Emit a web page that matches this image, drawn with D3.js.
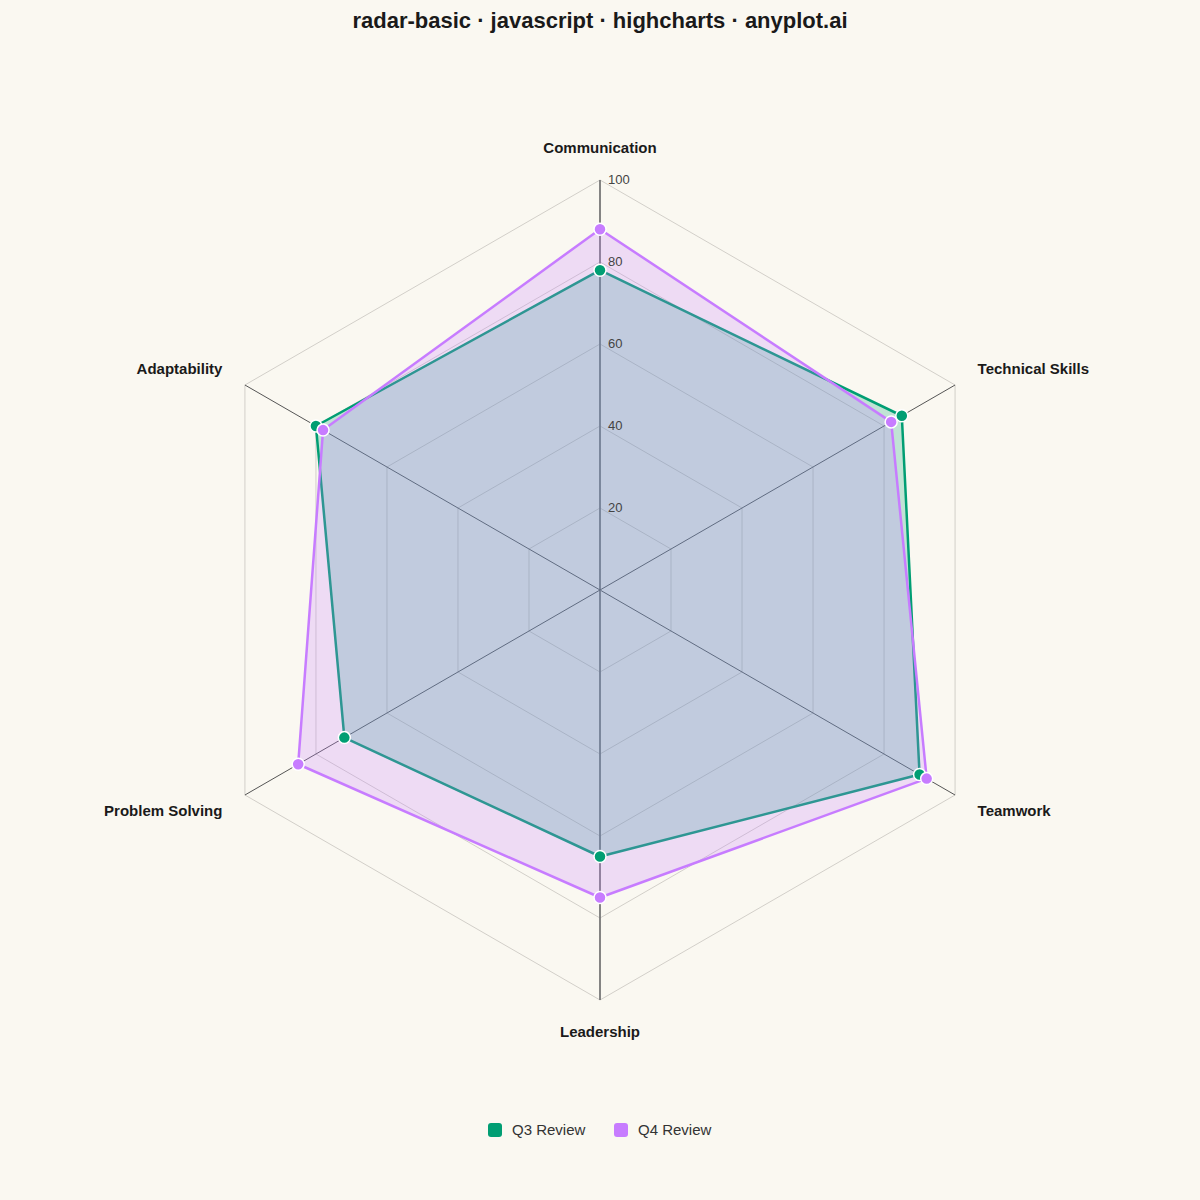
<!DOCTYPE html>
<html>
<head>
<meta charset="utf-8">
<script src="https://cdn.jsdelivr.net/npm/d3@7"></script>
<style>
  html, body { margin: 0; padding: 0; background: #FAF8F1; }
  svg { display: block; font-family: "Liberation Sans", Arial, sans-serif; }
</style>
</head>
<body>
<svg id="chart" width="1200" height="1200"></svg>
<script>
const categories = ["Communication", "Technical Skills", "Teamwork", "Leadership", "Problem Solving", "Adaptability"];
const q3Values = [78, 85, 90, 65, 72, 80];
const q4Values = [88, 82, 92, 75, 85, 78];
const seriesNames = ["Q3 Review", "Q4 Review"];
const seriesColors = ["#009E73", "#C77CFF"];
const tickValues = [20, 40, 60, 80, 100];
const titleText = "radar-basic · javascript · highcharts · anyplot.ai";

const W = 1200, H = 1200, cx = 600, cy = 590, R = 410;
const svg = d3.select("#chart");
svg.append("rect").attr("width", W).attr("height", H).attr("fill", "#FAF8F1");

const r = d3.scaleLinear().domain([0, 100]).range([0, R]);
const angle = d3.scalePoint().domain(categories).range([0, 2 * Math.PI * (categories.length - 1) / categories.length]);
const pt = (cat, v) => [cx + r(v) * Math.sin(angle(cat)), cy - r(v) * Math.cos(angle(cat))];

// title
svg.append("text").attr("x", W / 2).attr("y", 28).attr("text-anchor", "middle")
  .attr("font-size", 22).attr("font-weight", "bold").attr("fill", "#1a1a1a").text(titleText);

// grid polygons
const gridG = svg.append("g");
tickValues.forEach(t => {
  gridG.append("polygon")
    .attr("points", categories.map(c => pt(c, t).join(",")).join(" "))
    .attr("fill", "none").attr("stroke", "#d2cfc9").attr("stroke-width", 1);
});

// spokes
categories.forEach(c => {
  const [x, y] = pt(c, 100);
  const vertical = Math.abs(Math.sin(angle(c))) < 1e-6;
  gridG.append("line").attr("x1", cx).attr("y1", cy).attr("x2", x).attr("y2", y)
    .attr("stroke", vertical ? "#777" : "#555").attr("stroke-width", vertical ? 1.8 : 1);
});

// series: area then line, in order
const seriesData = [q3Values, q4Values];
const lineGen = d3.lineRadial().angle((d, i) => angle(categories[i])).radius(d => r(d)).curve(d3.curveLinearClosed);
seriesData.forEach((vals, si) => {
  const g = svg.append("g").attr("transform", `translate(${cx},${cy})`);
  g.append("path").attr("d", lineGen(vals)).attr("fill", seriesColors[si]).attr("fill-opacity", 0.23).attr("stroke", "none");
  g.append("path").attr("d", lineGen(vals)).attr("fill", "none")
    .attr("stroke", seriesColors[si]).attr("stroke-width", 2.5).attr("stroke-linejoin", "round");
});

// markers
seriesData.forEach((vals, si) => {
  svg.append("g").selectAll("circle").data(vals).join("circle")
    .attr("cx", (d, i) => pt(categories[i], d)[0])
    .attr("cy", (d, i) => pt(categories[i], d)[1])
    .attr("r", 6).attr("fill", seriesColors[si]).attr("stroke", "#fff").attr("stroke-width", 1.5);
});

// tick labels
tickValues.forEach(t => {
  svg.append("text").attr("x", cx + 8).attr("y", cy - r(t)).attr("dy", "0.3em")
    .attr("font-size", 13).attr("fill", "#444").text(t);
});

// category labels
categories.forEach(c => {
  const a = angle(c), s = Math.sin(a), co = Math.cos(a);
  const x = cx + (R + 26) * s, y = cy - (R + 32) * co;
  const anchor = Math.abs(s) < 1e-6 ? "middle" : (s > 0 ? "start" : "end");
  svg.append("text").attr("x", x).attr("y", y).attr("dy", "0.35em").attr("text-anchor", anchor)
    .attr("font-size", 15).attr("font-weight", "bold").attr("fill", "#1a1a1a").text(c);
});

// legend
const legend = svg.append("g");
const legendX = [488, 614];
seriesNames.forEach((n, i) => {
  legend.append("rect").attr("x", legendX[i]).attr("y", 1123).attr("width", 14).attr("height", 14)
    .attr("rx", 3).attr("fill", seriesColors[i]);
  legend.append("text").attr("x", legendX[i] + 24).attr("y", 1130).attr("dy", "0.35em")
    .attr("font-size", 15).attr("fill", "#333").text(n);
});
</script>
</body>
</html>
